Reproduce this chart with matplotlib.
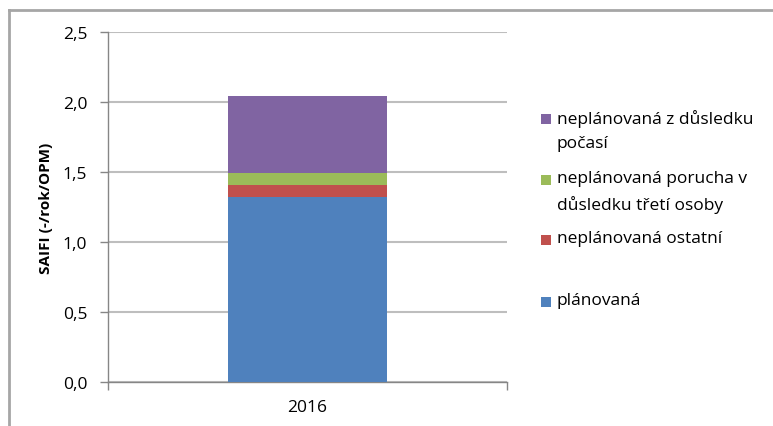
import matplotlib
matplotlib.use("Agg")
import matplotlib.pyplot as plt
from matplotlib.patches import Rectangle
from matplotlib.lines import Line2D

plt.rcParams['font.family'] = ['Open Sans', 'DejaVu Sans']

years = ["2016"]
series_names = [
    "plánovaná",
    "neplánovaná ostatní",
    "neplánovaná porucha v\ndůsledku třetí osoby",
    "neplánovaná z důsledku\npočasí",
]
plan = [1.325]
ostatni = [0.085]
treti_osoba = [0.085]
pocasi = [0.545]
series_values = [plan, ostatni, treti_osoba, pocasi]
colors = ["#4F81BD", "#C0504D", "#9BBB59", "#8064A2"]
yticks = [0.0, 0.5, 1.0, 1.5, 2.0, 2.5]
ytick_labels = ["0,0", "0,5", "1,0", "1,5", "2,0", "2,5"]

W, H = 773, 427
fig = plt.figure(figsize=(W / 100, H / 100), dpi=100)
fig.patch.set_facecolor("white")

ax = fig.add_axes([108 / W, (H - 383) / H, (507 - 108) / W, (383 - 33) / H])
ax.set_xlim(-0.5, 0.5)
ax.set_ylim(0, 2.5)

x = list(range(len(years)))
bottom = [0.0] * len(years)
for vals, c, name in zip(series_values, colors, series_names):
    ax.bar(x, vals, width=0.4, bottom=bottom, color=c, label=name, zorder=3)
    bottom = [b + v for b, v in zip(bottom, vals)]

ax.set_yticks(yticks)
ax.set_yticklabels(ytick_labels, fontsize=12.5)
ax.yaxis.grid(True, color="#BEBEBE", linewidth=1.5, zorder=0)
ax.tick_params(axis="y", direction="out", length=6, width=1, color="#868686", pad=9)

ax.set_xticks([-0.5, 0.5])
ax.set_xticklabels(["", ""])
ax.set_xticks(x, minor=True)
ax.set_xticklabels(years, minor=True, fontsize=12.5)
ax.tick_params(axis="x", which="major", direction="out", length=6, width=1, color="#868686")
ax.tick_params(axis="x", which="minor", length=0, pad=12)

for s in ["top", "right"]:
    ax.spines[s].set_visible(False)
for s in ["left", "bottom"]:
    ax.spines[s].set_color("#868686")
    ax.spines[s].set_linewidth(1)

ax.set_ylabel("SAIFI (-/rok/OPM)", fontsize=11, fontweight="bold", labelpad=7)

# chart area border (partially visible)
fig.add_artist(Line2D([8.5 / W, 8.5 / W], [0, (H - 11) / H], color="#A6A6A6", linewidth=2,
                      transform=fig.transFigure))
fig.add_artist(Line2D([8.5 / W, 1], [(H - 11) / H, (H - 11) / H], color="#A6A6A6", linewidth=2,
                      transform=fig.transFigure))

# legend (manual, Excel-like placement)
legend_order = [3, 2, 1, 0]
legend_y = [120, 181, 241, 303]
for idx, ly in zip(legend_order, legend_y):
    fig.add_artist(Rectangle((541 / W, (H - ly - 5) / H), 10 / W, 10 / H,
                             facecolor=colors[idx], edgecolor="none",
                             transform=fig.transFigure))
    fig.text(557 / W, (H - ly + 9.5) / H, series_names[idx], fontsize=12.5,
             va="top", ha="left", linespacing=1.6)

fig.savefig("out.png", dpi=100)
